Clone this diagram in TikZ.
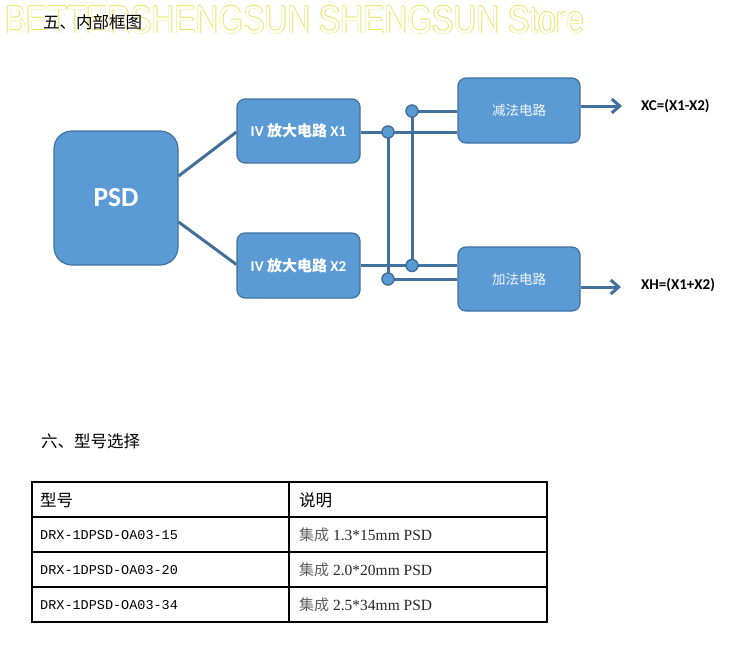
\documentclass[tikz,border=0pt]{standalone}
\usepackage{fontspec}
\setmainfont{Liberation Serif}
\newfontfamily\cjkfont{Noto Sans CJK SC}
\newfontfamily\calfont{Carlito}
\newfontfamily\wmfont{Liberation Sans}
\newfontfamily\monofont{Liberation Mono}
\usetikzlibrary{arrows.meta,calc}
\definecolor{boxfill}{RGB}{91,155,213}
\definecolor{boxedge}{RGB}{65,113,156}
\definecolor{wire}{RGB}{66,112,156}
\definecolor{wmyellow}{RGB}{236,226,90}
\definecolor{txtgray}{RGB}{95,95,95}
\tikzset{
  blk/.style={draw=boxedge, line width=1.2pt, fill=boxfill, rounded corners=8pt, text=white},
  bigblk/.style={blk, rounded corners=18pt},
  wireline/.style={draw=wire, line width=3pt},
  jdot/.style={circle, fill=boxfill, draw=wire, line width=1.5pt, minimum size=12pt, inner sep=0pt},
  outarrow/.style={wireline, -{Straight Barb[length=8pt,width=14pt,line width=3pt]}},
  lbl/.style={inner sep=0pt, anchor=west},
  grid/.style={draw=black, line width=1.1pt},
  wmark/.style={inner sep=0pt, anchor=base west, font=\wmfont\fontsize{39}{40}\selectfont}
}
\newcommand{\wmtxt}{\scalebox{0.815}[1]{BETTERSHENGSUN SHENGSUN Store}}
\begin{document}
\begin{tikzpicture}[x=1pt, y=-1pt]
\useasboundingbox (0,0) rectangle (742,646);
\fill[white] (0,0) rectangle (742,646);

% watermark (outlined yellow text)
\foreach \dx/\dy [count=\i] in {-0.55/0,0.55/0,0/-0.55,0/0.55}
  \node[wmark, text=wmyellow, name=wm\i] at ($(5,33)+(\dx,\dy)$) {\wmtxt};
\node[wmark, text=white] (wm) at (5,33) {\wmtxt};

% titles
\node[lbl, font=\cjkfont\fontsize{16.5}{18}\selectfont] (t1) at (43,22) {五、内部框图};
\node[lbl, font=\cjkfont\fontsize{16.5}{18}\selectfont] (t2) at (41,441) {六、型号选择};

% blocks
\node[bigblk, minimum width=124pt, minimum height=134pt, font=\calfont\bfseries\fontsize{27.5}{30}\selectfont] (psd) at (116,198) {PSD};
\node[blk, minimum width=123pt, minimum height=64pt, font=\calfont\bfseries\fontsize{15}{17}\selectfont] (x1) at (298.5,131) {IV {\cjkfont\bfseries 放大电路} X1};
\node[blk, minimum width=123pt, minimum height=65pt, font=\calfont\bfseries\fontsize{15}{17}\selectfont] (x2) at (298.5,265.5) {IV {\cjkfont\bfseries 放大电路} X2};
\node[blk, minimum width=122pt, minimum height=65pt, font=\cjkfont\fontsize{13.5}{15}\selectfont, text=white!92!boxfill] (sub) at (519,110.5) {减法电路};
\node[blk, minimum width=122pt, minimum height=64pt, font=\cjkfont\fontsize{13.5}{15}\selectfont, text=white!92!boxfill] (add) at (519,279) {加法电路};

% junction points
\coordinate (ja) at (388,132);
\coordinate (jb) at (412,111);
\coordinate (jc) at (412,265.5);
\coordinate (jd) at (388,279);

% connectors
\draw[wireline] ([yshift=22pt]psd.east) -- ([yshift=-1pt]x1.west);
\draw[wireline] ([yshift=-24pt]psd.east) -- ([yshift=1pt]x2.west);
\draw[wireline] ([yshift=-1pt]x1.east) -- ([yshift=-1pt]x1.east -| sub.west);
\draw[wireline] (x2.east) -- (x2.east -| add.west);
\draw[wireline] (jb) -- (jb -| sub.west);
\draw[wireline] (jd) -- (jd -| add.west);
\draw[wireline] (jb) -- (jc);
\draw[wireline] (ja) -- (jd);
\foreach \p in {ja,jb,jc,jd} \node[jdot, name=dot\p] at (\p) {};

% outputs
\coordinate (oc) at (622,106);
\coordinate (oh) at (621,287);
\draw[outarrow] (sub.east |- oc) -- (oc);
\draw[outarrow] (add.east |- oh) -- (oh);
\node[lbl, font=\calfont\bfseries\fontsize{15}{17}\selectfont] (xc) at (641,106) {XC=(X1-X2)};
\node[lbl, font=\calfont\bfseries\fontsize{15}{17}\selectfont] (xh) at (641,285) {XH=(X1+X2)};

% table
\draw[grid] (32,482) rectangle (547,622);
\foreach \yy in {517,552,587} \draw[grid] (32,\yy) -- (547,\yy);
\draw[grid] (289,482) -- (289,622);

\node[lbl, font=\cjkfont\fontsize{16.5}{18}\selectfont] (h1) at (40,500) {型号};
\node[lbl, font=\cjkfont\fontsize{16.5}{18}\selectfont] (h2) at (299,500) {说明};
\node[lbl, font=\monofont\fontsize{13.5}{15}\selectfont] (m1) at (40,535) {DRX-1DPSD-OA03-15};
\node[lbl, font=\monofont\fontsize{13.5}{15}\selectfont] (m2) at (40,570) {DRX-1DPSD-OA03-20};
\node[lbl, font=\monofont\fontsize{13.5}{15}\selectfont] (m3) at (40,605) {DRX-1DPSD-OA03-34};
\node[lbl, font=\fontsize{15.5}{17}\selectfont, text=black!85] (d1) at (299,535) {{\cjkfont\fontsize{15}{17}\selectfont\color{txtgray}集成} 1.3*15mm PSD};
\node[lbl, font=\fontsize{15.5}{17}\selectfont, text=black!85] (d2) at (299,570) {{\cjkfont\fontsize{15}{17}\selectfont\color{txtgray}集成} 2.0*20mm PSD};
\node[lbl, font=\fontsize{15.5}{17}\selectfont, text=black!85] (d3) at (299,605) {{\cjkfont\fontsize{15}{17}\selectfont\color{txtgray}集成} 2.5*34mm PSD};
\end{tikzpicture}
\end{document}
